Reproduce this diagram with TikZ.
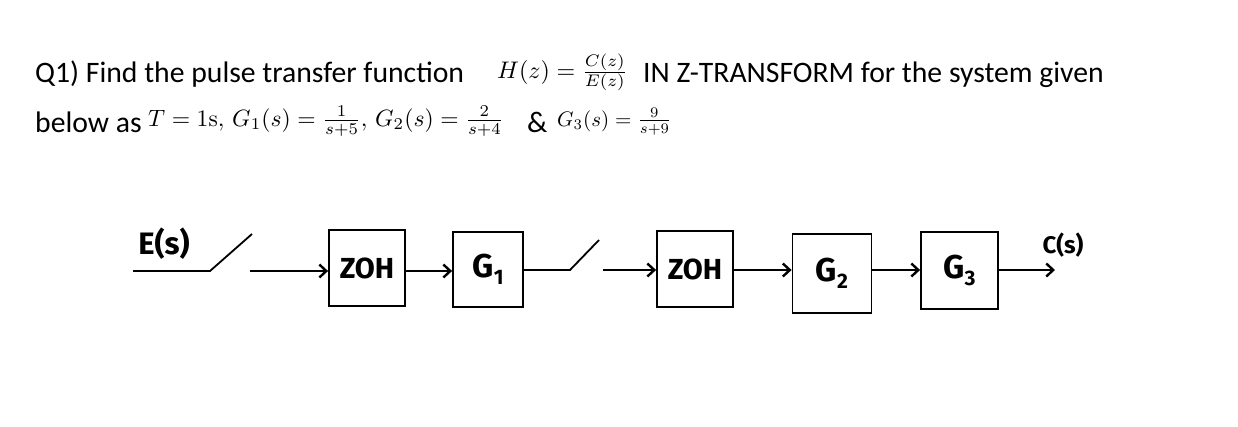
\RequirePackage{fix-cm}
\documentclass[tikz,border=0pt]{standalone}
\usepackage[no-math]{fontspec}
\usepackage{graphicx}
\setmainfont{Carlito}
\newfontfamily\handfont{Fira Sans}
\usetikzlibrary{arrows.meta}
\newcommand{\hsub}[1]{\raisebox{-7pt}{\fontsize{21}{22}\selectfont #1}}
\begin{document}
\begin{tikzpicture}[x=1pt,y=-1pt,
  txt/.style={anchor=base west,inner sep=0pt,font=\fontsize{29.7}{34}\selectfont},
  mth/.style={anchor=base west,inner sep=0pt},
  blk/.style={draw,line width=1.8pt,minimum width=76pt,minimum height=76pt,inner sep=0pt,font=\handfont\bfseries\fontsize{29}{30}\selectfont},
  glab/.style={font=\handfont\bfseries\fontsize{33}{34}\selectfont},
  wire/.style={line width=1.8pt},
  sig/.style={line width=1.8pt,-{Straight Barb[length=7pt,width=13pt,line width=2.4pt]}},
  hand/.style={inner sep=0pt,font=\handfont\bfseries\fontsize{31}{32}\selectfont}]
\useasboundingbox[fill=white] (0,0) rectangle (1238,426);
% question text
\node[txt] (q1) at (35,82) {Q1) Find the pulse transfer function};
\node[mth] (hz) at (497,78) {\scalebox{2.4}{$H(z)=\frac{C(z)}{E(z)}$}};
\node[txt] (q2) at (643,82) {IN Z-TRANSFORM for the system given};
\node[txt] (q3) at (35,132) {below as};
\node[mth] (m1) at (148,126) {\scalebox{2.36}{$T=1\mathrm{s},\, G_1(s)=\frac{1}{s+5},\, G_2(s)=\frac{2}{s+4}$}};
\node[txt] (amp) at (527,132) {\&};
\node[mth] (m2) at (557,126) {\scalebox{2.1}{$G_3(s)=\frac{9}{s+9}$}};
% blocks
\node[blk] (zoh1) at (367,268) {ZOH};
\node[blk,glab,minimum width=70pt,minimum height=75pt] (g1) at (488,269.5) {G\hsub{1}};
\node[blk] (zoh2) at (695,269) {ZOH};
\node[blk,glab,minimum width=79pt,minimum height=79pt] (g2) at (832,273.5) {G\hsub{2}};
\node[blk,glab,minimum width=77pt,minimum height=77pt] (g3) at (959.5,270.5) {G\hsub{3}};
% labels
\node[hand] (es) at (164,244) {E(s)};
\node[hand,font=\handfont\bfseries\fontsize{24}{26}\selectfont] (cs) at (1063,245) {C(s)};
% coordinates
\coordinate (in0) at (133,271);
\coordinate (s1a) at (210,271);
\coordinate (s1b) at (252,234);
\coordinate (s1c) at (250,271);
\coordinate (s2a) at (570,270);
\coordinate (s2b) at (599,240);
\coordinate (s2c) at (603,270);
\coordinate (out) at (1055,270);
% connectors
\draw[wire] (in0) -- (s1a) -- (s1b);
\draw[sig] (s1c) -- (s1c -| zoh1.west);
\draw[sig] (zoh1.east |- s1c) -- (g1.west |- s1c);
\draw[wire] (g1.east |- s2a) -- (s2a) -- (s2b);
\draw[sig] (s2c) -- (s2c -| zoh2.west);
\draw[sig] (zoh2.east |- s2c) -- (g2.west |- s2c);
\draw[sig] (g2.east |- s2c) -- (g3.west |- s2c);
\draw[sig] (g3.east |- s2c) -- (out);
\end{tikzpicture}
\end{document}
